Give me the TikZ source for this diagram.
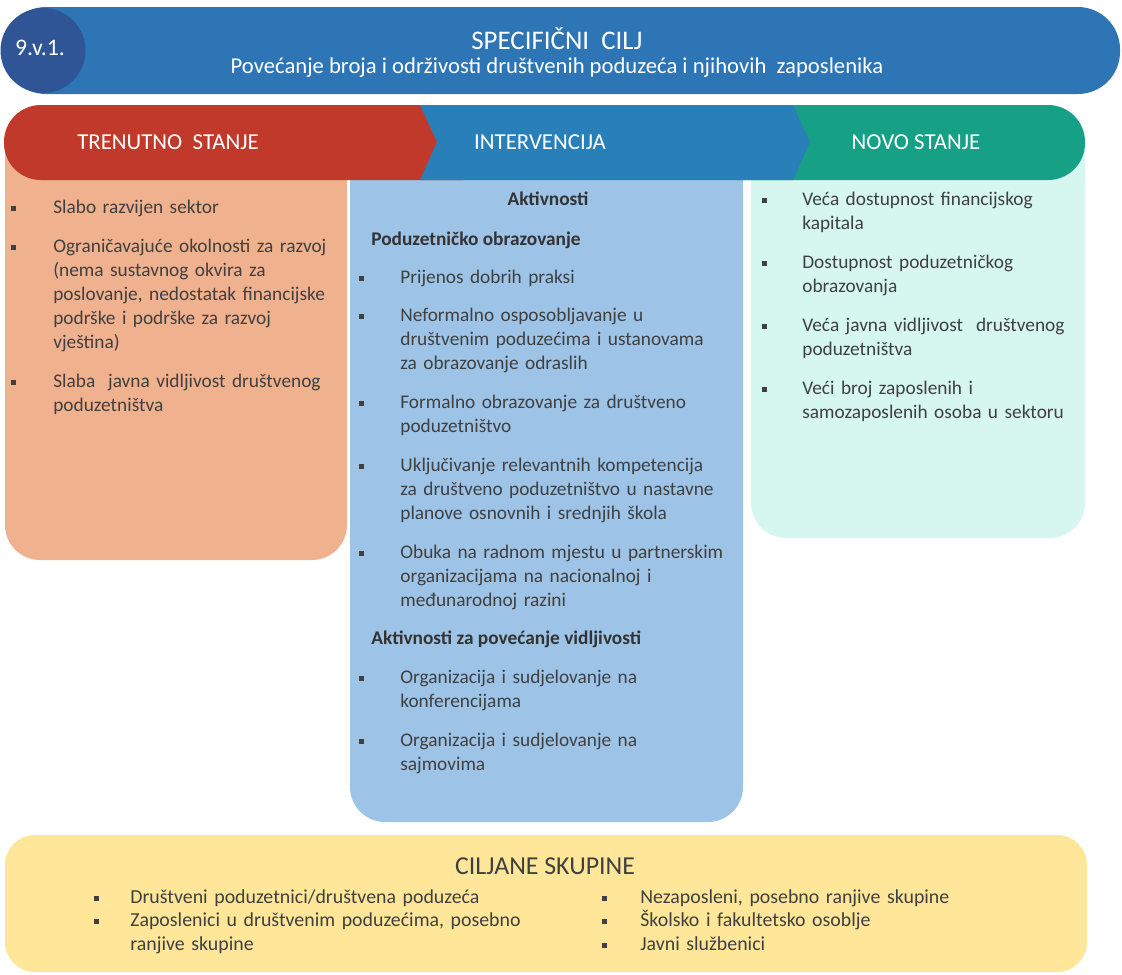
\documentclass[tikz,border=0pt]{standalone}
\usepackage{fontspec}
\setmainfont{Carlito}
\usetikzlibrary{positioning,shapes}
\definecolor{goalblue}{HTML}{2E75B6}
\definecolor{goaldark}{HTML}{2F5597}
\definecolor{nowred}{HTML}{C0392B}
\definecolor{actblue}{HTML}{2980B9}
\definecolor{newgreen}{HTML}{16A085}
\definecolor{nowfill}{HTML}{F0B18E}
\definecolor{actfill}{HTML}{9DC3E6}
\definecolor{newfill}{HTML}{D5F7F0}
\definecolor{grpfill}{HTML}{FFE699}
\definecolor{txtgray}{HTML}{404040}

\begin{document}
\begin{tikzpicture}[x=0.02cm,y=-0.02cm]
\tikzstyle{every node}=[inner sep=0pt]
\tikzstyle{item}=[anchor=base west, align=left, text width=7cm, text=txtgray, font=\fontsize{11}{13.8}\selectfont]
\tikzstyle{subhead}=[anchor=base west, text=black!80, font=\fontsize{11}{13.8}\selectfont\bfseries]
\tikzstyle{group}=[item, text width=9cm, font=\fontsize{11.3}{13.4}\selectfont]
\tikzstyle{head}=[anchor=base, text=white, font=\fontsize{13}{15}\selectfont]
\tikzstyle{bul}=[fill=txtgray]

\fill[white] (0,0) rectangle (1122,974);
\useasboundingbox (0,0) rectangle (1122,974);

% panels below the header bar
\fill[nowfill, rounded corners=20pt] (5,150) rectangle (347,560);
\fill[nowfill] (5,150) rectangle (347,400);
\fill[actfill, rounded corners=20pt] (350,150) rectangle (743,822);
\fill[actfill] (350,150) rectangle (743,600);
\fill[newfill, rounded corners=20pt] (751,150) rectangle (1085,538);
\fill[newfill] (751,150) rectangle (1085,400);
\fill[grpfill, rounded corners=17pt] (5,835) rectangle (1087,972);

% specific goal banner
\fill[goalblue, rounded corners=24pt] (4,7) rectangle (1120,94);
\node[circle, fill=goaldark, minimum size=1.7cm] (num) at (43,50.5) {};
\node[head, font=\fontsize{13.5}{16}\selectfont] (numtxt) at (40,55) {9.v.1.};
\node[head, font=\fontsize{15.3}{18}\selectfont] (goal) at (557,49) {SPECIFIČNI~ CILJ};
\node[head, font=\fontsize{12.9}{15}\selectfont] (goaltxt) at (557,73) {Povećanje broja i održivosti društvenih poduzeća i njihovih~ zaposlenika};

% header bar
\fill[newgreen, rounded corners=21pt] (700,105) rectangle (1085,180);
\fill[nowred, rounded corners=21pt] (4,105) rectangle (500,180);
\fill[actblue] (420,105) -- (793,105) -- (810,142) -- (793,180) -- (420,180) -- (437,142) -- cycle;
\node[head] (now) at (168,149.5) {TRENUTNO~ STANJE};
\node[head] (act) at (540,149.5) {INTERVENCIJA};
\node[head] (new) at (916,149.5) {NOVO STANJE};

% trenutno stanje
\foreach \y in {208,247,382} \fill[bul] (11,\y-2.5) rectangle (16,\y+2.5);
\node[item] (n1) at (53,213) {Slabo razvijen sektor};
\node[item] (n2) at (53,252) {Ograničavajuće okolnosti za razvoj\\(nema sustavnog okvira za\\poslovanje, nedostatak financijske\\podrške i podrške za razvoj\\vještina)};
\node[item] (n3) at (53,387) {Slaba~ javna vidljivost društvenog\\poduzetništva};

% intervencija
\node[subhead, anchor=base] (acts) at (548,205) {Aktivnosti};
\node[subhead] (edu) at (371,245) {Poduzetničko obrazovanje};
\foreach \y in {278,316,403,466,553,678,741} \fill[bul] (359,\y-2.5) rectangle (364,\y+2.5);
\node[item] (a1) at (400,283) {Prijenos dobrih praksi};
\node[item] (a2) at (400,321) {Neformalno osposobljavanje u\\društvenim poduzećima i ustanovama\\za obrazovanje odraslih};
\node[item] (a3) at (400,408) {Formalno obrazovanje za društveno\\poduzetništvo};
\node[item] (a4) at (400,471) {Uključivanje relevantnih kompetencija\\za društveno poduzetništvo u nastavne\\planove osnovnih i srednjih škola};
\node[item] (a5) at (400,558) {Obuka na radnom mjestu u partnerskim\\organizacijama na nacionalnoj i\\međunarodnoj razini};
\node[subhead] (vis) at (371,644) {Aktivnosti za povećanje vidljivosti};
\node[item] (a6) at (400,683) {Organizacija i sudjelovanje na\\konferencijama};
\node[item] (a7) at (400,746) {Organizacija i sudjelovanje na\\sajmovima};

% novo stanje
\foreach \y in {200,263,326,389} \fill[bul] (762,\y-2.5) rectangle (767,\y+2.5);
\node[item] (s1) at (802,205) {Veća dostupnost financijskog\\kapitala};
\node[item] (s2) at (802,268) {Dostupnost poduzetničkog\\obrazovanja};
\node[item] (s3) at (802,331) {Veća javna vidljivost~ društvenog\\poduzetništva};
\node[item] (s4) at (802,394) {Veći broj zaposlenih i\\samozaposlenih osoba u sektoru};

% ciljane skupine
\node[anchor=base, text=txtgray, font=\fontsize{14.7}{17}\selectfont] (grp) at (545,874) {CILJANE SKUPINE};
\foreach \y in {898,921} \fill[bul] (94,\y-2.5) rectangle (99,\y+2.5);
\foreach \y in {898,921,945} \fill[bul] (602,\y-2.5) rectangle (607,\y+2.5);
\node[group] (g1) at (130,903) {Društveni poduzetnici/društvena poduzeća\\Zaposlenici u društvenim poduzećima, posebno\\ranjive skupine};
\node[group] (g2) at (640,903) {Nezaposleni, posebno ranjive skupine\\Školsko i fakultetsko osoblje\\Javni službenici};
\end{tikzpicture}
\end{document}
